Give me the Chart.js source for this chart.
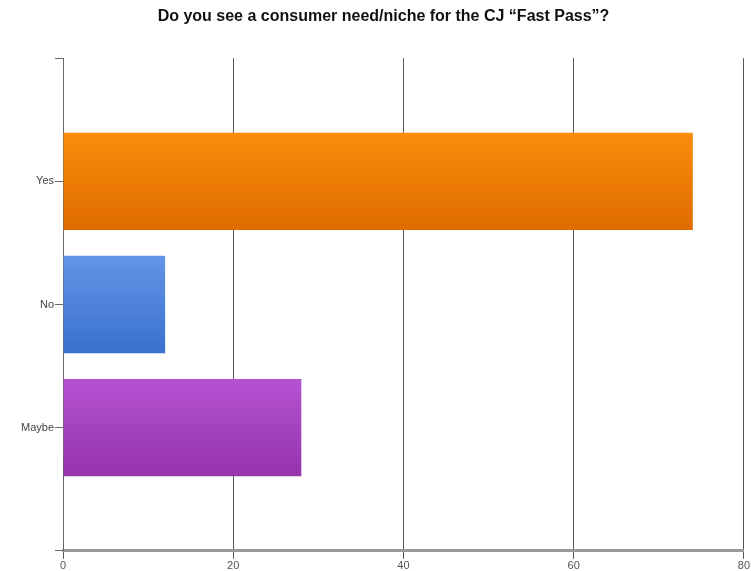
<!DOCTYPE html>
<html>
<head>
<meta charset="utf-8">
<script src="https://cdn.jsdelivr.net/npm/chart.js@4/dist/chart.umd.min.js"></script>
<style>
  html, body { margin: 0; padding: 0; background: #fff; overflow: hidden; }
  #wrap { width: 751px; height: 571px; }
</style>
</head>
<body>
<div id="wrap"><canvas id="chart"></canvas></div>
<script>
// blank slots at both ends so the answers sit on ticks 1..3
const categories = ['', 'Yes', 'No', 'Maybe', ''];
const answers = [null, 74, 12, 28, null];
const xTicks = [0, 20, 40, 60, 80];
const titleText = 'Do you see a consumer need/niche for the CJ \u201cFast Pass\u201d?';

const topColors = [null, '#fb8c0a', '#6395e6', '#b452d2', null];
const bottomColors = [null, '#df6c00', '#3a70cf', '#9534ac', null];

const barFill = (ctx) => {
    const chart = ctx.chart;
    const i = ctx.dataIndex;
    if (!chart.chartArea || !chart.scales.y || topColors[i] == null) return topColors[i] || '#fff';
    const y = chart.scales.y.getPixelForValue(i);
    const g = chart.ctx.createLinearGradient(0, y - 49, 0, y + 49);
    g.addColorStop(0, topColors[i]);
    g.addColorStop(1, bottomColors[i]);
    return g;
};

new Chart(document.getElementById('chart'), {
    type: 'bar',
    data: {
        labels: categories,
        datasets: [{
            data: answers,
            backgroundColor: barFill,
            borderWidth: 0,
            barPercentage: 0.79,
            categoryPercentage: 1
        }]
    },
    options: {
        indexAxis: 'y',
        responsive: true,
        maintainAspectRatio: false,
        animation: false,
        layout: { padding: { top: 2, right: 4, left: 20, bottom: -3 } },
        plugins: {
            legend: { display: false },
            tooltip: { enabled: false },
            title: {
                display: true,
                text: titleText,
                color: '#111',
                font: { family: 'Liberation Sans, Arial', size: 16, weight: 'bold' },
                padding: { top: 5, bottom: 32 }
            }
        },
        scales: {
            x: {
                min: 0,
                max: 80,
                afterBuildTicks: (axis) => { axis.ticks = xTicks.map(v => ({ value: v })); },
                grid: { color: '#555', lineWidth: 1, tickLength: 8, drawTicks: true },
                border: { display: true, color: '#999', width: 3 },
                ticks: {
                    color: '#555',
                    font: { family: 'Liberation Sans, Arial', size: 11 },
                    padding: 1,
                    maxRotation: 0
                }
            },
            y: {
                offset: false,
                grid: { offset: false, drawOnChartArea: false, color: '#666', tickLength: 8 },
                border: { display: true, color: '#666', width: 1 },
                ticks: {
                    color: '#444',
                    font: { family: 'Liberation Sans, Arial', size: 11 },
                    padding: 1,
                    autoSkip: false
                }
            }
        }
    }
});
</script>
</body>
</html>
